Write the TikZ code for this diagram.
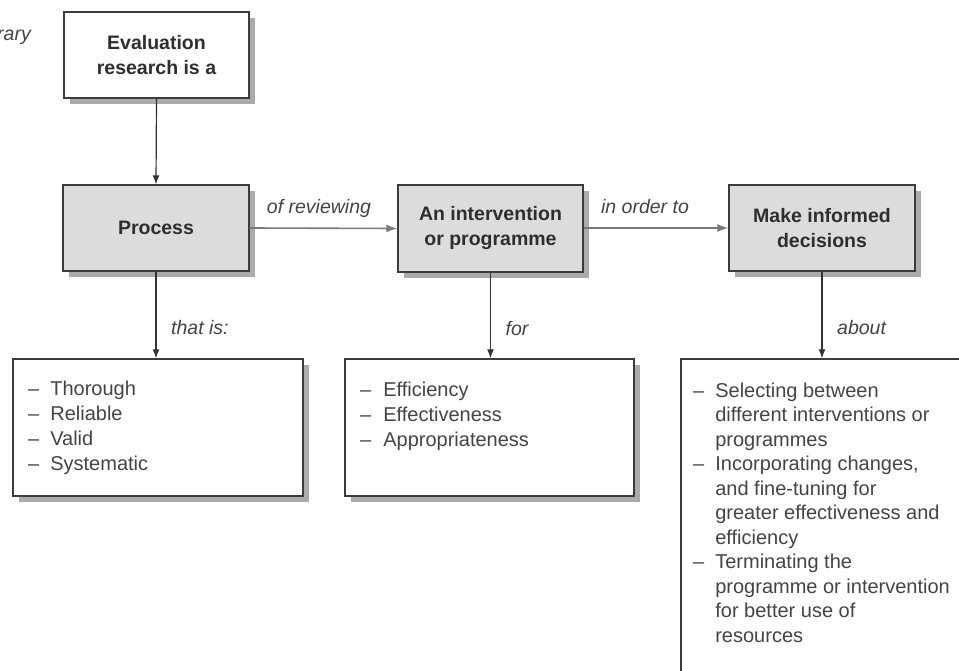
\documentclass[tikz,border=0pt]{standalone}
\usepackage{fontspec}
\setmainfont{Liberation Sans}
\usetikzlibrary{arrows.meta,shadows,calc}
\definecolor{boxline}{HTML}{3C3C3C}
\definecolor{boxfill}{HTML}{DCDCDC}
\definecolor{txt}{HTML}{2E2E2E}
\definecolor{ltxt}{HTML}{444444}
\definecolor{harrow}{HTML}{7A7A7A}
\definecolor{varrow}{HTML}{333333}
\definecolor{shadowc}{HTML}{ABABAB}
\begin{document}
\begin{tikzpicture}[x=1pt,y=-1pt,
  every node/.style={inner sep=0pt},
  shad/.style={drop shadow={shadow xshift=6pt,shadow yshift=-6pt,fill=shadowc,opacity=1}},
  headbox/.style={draw=boxline,line width=1.4pt,shad,align=center,
    font=\fontsize{19.5}{25}\selectfont\bfseries,text=txt},
  grayhead/.style={headbox,fill=boxfill},
  whitehead/.style={headbox,fill=white},
  listbox/.style={draw=boxline,line width=1.3pt,fill=white,shad},
  listtext/.style={anchor=base west,align=left,text=ltxt,font=\fontsize{20}{25}\selectfont},
  lbl/.style={text=ltxt,font=\fontsize{19.5}{24}\selectfont\itshape},
  varr/.style={draw=varrow,line width=1.2pt,-{Latex[length=9pt,width=7pt]}},
  harr/.style={draw=harrow,line width=1.6pt,-{Latex[length=11pt,width=8pt]}}
]
\clip (0,0) rectangle (959,671);
\fill[white] (0,0) rectangle (959,671);

% partial text at the top-left edge
\node[lbl,anchor=base east] (cut) at (31,41) {rary};

% header boxes
\node[whitehead,minimum width=185pt,minimum height=86pt] (eval) at (156.5,55) {Evaluation\\research is a};
\node[grayhead,minimum width=186pt,minimum height=86pt] (proc) at (156,228) {Process};
\node[grayhead,minimum width=185pt,minimum height=87pt] (int) at (490.5,228.5) {An intervention\\or programme};
\node[grayhead,minimum width=186pt,minimum height=86pt] (make) at (822,228) {Make informed\\decisions};

% list boxes
\node[listbox,minimum width=290pt,minimum height=137pt] (l1) at (158,427.5) {};
\node[listbox,minimum width=289pt,minimum height=137pt] (l2) at (489.5,427.5) {};
\node[listbox,minimum width=320pt,minimum height=340pt] (l3) at (841,529) {};

\node[listtext] (t1) at (28,395) {\begin{tabular}[t]{@{}l@{\hspace{11pt}}l@{}}
– & Thorough\\
– & Reliable\\
– & Valid\\
– & Systematic
\end{tabular}};

\node[listtext] (t2) at (360,396) {\begin{tabular}[t]{@{}l@{\hspace{12pt}}l@{}}
– & Efficiency\\
– & Effectiveness\\
– & Appropriateness
\end{tabular}};

\node[listtext,font=\fontsize{20}{24.5}\selectfont] (t3) at (693,397) {\begin{tabular}[t]{@{}l@{\hspace{11pt}}l@{}}
– & Selecting between\\
  & different interventions or\\
  & programmes\\
– & Incorporating changes,\\
  & and fine-tuning for\\
  & greater effectiveness and\\
  & efficiency\\
– & Terminating the\\
  & programme or intervention\\
  & for better use of\\
  & resources
\end{tabular}};

% connectors
\draw[varr] (eval.south) -- (proc.north);
\draw[varr] (proc.south) -- (proc.south |- l1.north);
\draw[varr] (int.south) -- (int.south |- l2.north);
\draw[varr] (make.south) -- (make.south |- l3.north);
\draw[harr] (proc.east) -- (int.west);
\draw[harr] (int.east |- proc.east) -- (make.west);

% labels
\node[lbl,anchor=base] (lrev) at (319,214) {of reviewing};
\node[lbl,anchor=base] (lord) at (645,214) {in order to};
\node[lbl,anchor=base west] (lthat) at ($(proc.south)+(15,63)$) {that is:};
\node[lbl,anchor=base west] (lfor) at ($(int.south)+(15,63)$) {for};
\node[lbl,anchor=base west] (labt) at ($(make.south)+(15,63)$) {about};
\end{tikzpicture}
\end{document}
